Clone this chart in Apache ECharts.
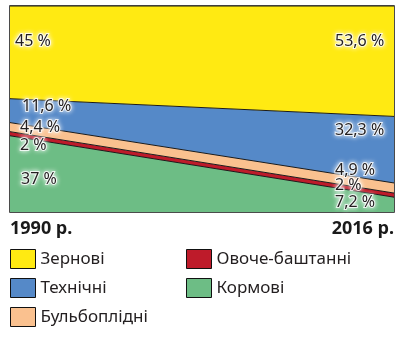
<!DOCTYPE html>
<html>
<head>
<meta charset="utf-8">
<script src="https://cdn.jsdelivr.net/npm/echarts@6/dist/echarts.min.js"></script>
<style>
  html, body { margin: 0; padding: 0; background: #fff; }
  #chart { width: 412px; height: 354px; }
</style>
</head>
<body>
<div id="chart"></div>
<script>
// роки
const years = ['1990 р.', '2016 р.']
// структура посівних площ, %
const kormovi = [37, 7.2]
const ovocheBashtanni = [2, 2]
const bulboplidni = [4.4, 4.9]
const tekhnichni = [11.6, 32.3]
const zernovi = [45, 53.6]

// порядок стеку знизу вгору
const layers = [
  { name: 'Кормові', data: kormovi, color: '#6dbd85', off: [[11, 44], [-59, 5]] },
  { name: 'Овоче-баштанні', data: ovocheBashtanni, color: '#be1b2a', off: [[10, 14], [-59, -8]] },
  { name: 'Бульбоплідні', data: bulboplidni, color: '#fac18f', off: [[10, 5], [-59, -13]] },
  { name: 'Технічні', data: tekhnichni, color: '#5589c8', off: [[12, 8], [-59, 14]] },
  { name: 'Зернові', data: zernovi, color: '#ffea12', off: [[5, 35], [-59, 35]] }
]

const fmt = v => String(v).replace('.', ',') + ' %'

const labelStyle = {
  show: true,
  fontFamily: 'Noto Sans',
  fontSize: 16,
  color: '#231f20',
  verticalAlign: 'middle',
  align: 'left',
  textBorderColor: 'rgba(255,255,255,0.8)',
  textBorderWidth: 2,
  textShadowColor: '#fff',
  textShadowBlur: 5,
  formatter: p => fmt(p.value)
}

const series = layers.map(l => ({
  name: l.name,
  type: 'line',
  stack: 'total',
  smooth: false,
  symbol: 'circle',
  symbolSize: 0,
  showSymbol: true,
  itemStyle: { color: l.color },
  lineStyle: { color: '#1a1a1a', width: 1 },
  areaStyle: { color: l.color, opacity: 1 },
  emphasis: { disabled: true },
  data: l.data.map((v, i) => ({
    value: v,
    label: Object.assign({}, labelStyle, { position: l.off[i] })
  }))
}))

const legendText = { fontFamily: 'Noto Sans', fontSize: 17, color: '#231f20' }
const legendBase = {
  orient: 'vertical',
  icon: 'rect',
  padding: 0,
  itemWidth: 25,
  itemHeight: 19,
  itemGap: 9,
  top: 249,
  textStyle: legendText,
  itemStyle: { borderColor: '#111', borderWidth: 1 },
  selectedMode: false
}

const option = {
  animation: false,
  backgroundColor: '#fff',
  grid: {
    left: 10, right: 18, top: 6, bottom: 142,
    show: true, borderColor: '#111', borderWidth: 1.5,
    backgroundColor: 'transparent'
  },
  legend: [
    Object.assign({}, legendBase, { left: 10, data: ['Зернові', 'Технічні', 'Бульбоплідні'] }),
    Object.assign({}, legendBase, { left: 186, data: ['Овоче-баштанні', 'Кормові'] })
  ],
  xAxis: {
    type: 'category',
    boundaryGap: false,
    data: years,
    axisLine: { show: false },
    axisTick: { show: false },
    splitLine: { show: false },
    axisLabel: {
      margin: 8,
      fontFamily: 'Noto Sans',
      fontWeight: 'bold',
      fontSize: 18,
      color: '#1a1a1a',
      alignMinLabel: 'left',
      alignMaxLabel: 'right'
    }
  },
  yAxis: {
    type: 'value',
    min: 0,
    max: 100,
    show: false,
    splitLine: { show: false }
  },
  series: series
}

const chart = echarts.init(document.getElementById('chart'))
chart.setOption(option)
</script>
</body>
</html>
